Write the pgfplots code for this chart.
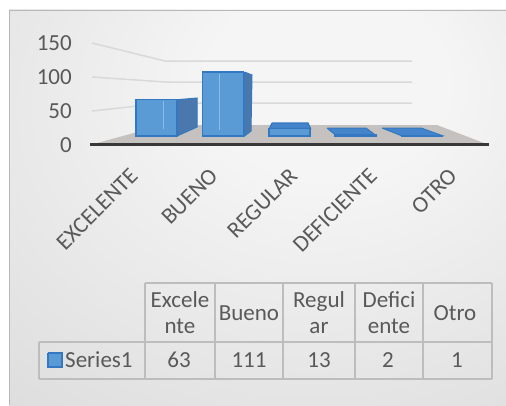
\documentclass[border=0pt]{standalone}
\usepackage{pgfplots}
\pgfplotsset{compat=1.18}
\usepackage{fontspec}
\setmainfont{Carlito}
\definecolor{txt}{HTML}{595959}
\definecolor{barf}{HTML}{5B9BD5}
\definecolor{bare}{HTML}{3378C0}
\definecolor{bars}{HTML}{4A78AC}
\definecolor{bart}{HTML}{4484CA}
\definecolor{barl}{HTML}{8DBBE8}
\definecolor{gridc}{HTML}{D9D9D9}
\definecolor{floorc}{HTML}{C4C1BE}
\definecolor{tbl}{HTML}{BDBDBD}
\definecolor{bgin}{HTML}{F5F5F5}
\definecolor{bgout}{HTML}{D2D2D2}
\pgfdeclareradialshading{bgshade}{\pgfpoint{8bp}{18bp}}{color(0bp)=(bgin); color(12bp)=(bgin); color(62bp)=(bgout); color(100bp)=(bgout)}
\newcommand{\tf}{\fontsize{23}{27}\selectfont}
\begin{document}
\begin{tikzpicture}
\fill[white] (0,0) rectangle (506pt,405pt);
\shade[shading=bgshade] (9pt,0pt) rectangle (506pt,395pt);
\draw[gridc!85!black, line width=0.8pt] (9pt,0pt) -- (9pt,395pt) -- (506pt,395pt);
% decoration axis in pixel space
\begin{axis}[at={(0pt,0pt)}, anchor=south west, scale only axis, width=506pt, height=405pt,
  xmin=0, xmax=506, ymin=0, ymax=405, y dir=reverse, hide axis, clip=false]
% gridlines (wall)
\addplot[gridc, line width=1.5pt] coordinates {(92,43)(165,61)(412,61)};
\addplot[gridc, line width=1.5pt] coordinates {(92,77)(165,82)(412,82)};
\addplot[gridc, line width=1.5pt] coordinates {(92,111)(165,103)(412,103)};
% floor
\addplot[fill=floorc, draw=none] coordinates {(90,145)(489,145)(437,125)(163,125)(90,145)};
\addplot[black!78, line width=3pt] coordinates {(90,144.5)(489,144.5)};
% side faces
\addplot[fill=bars, draw=bare, line width=1pt] coordinates {(177,99.7)(197,98)(197,127)(177,136)(177,99.7)};
\addplot[fill=bars, draw=bare, line width=1pt] coordinates {(244.5,72)(252,75)(251,131)(244.5,136)(244.5,72)};
% top faces
\addplot[fill=bart, draw=bare, line width=1.2pt] coordinates {(272,123)(308,123)(310.5,128.5)(269.5,128.5)(272,123)};
\addplot[fill=bart, draw=bare, line width=1pt] coordinates {(327,128)(366,128)(376,135.5)(336,135.5)(327,128)};
\addplot[fill=bart, draw=bare, line width=1pt] coordinates {(382,128)(421,128)(442,135.5)(401,135.5)(382,128)};
% table
\addplot[tbl, line width=2pt] coordinates {(145,283)(492,283)};
\addplot[tbl, line width=2pt] coordinates {(39,342)(492,342)};
\addplot[tbl, line width=2pt] coordinates {(39,379)(492,379)};
\addplot[tbl, line width=2pt] coordinates {(39,342)(39,379)};
\addplot[tbl, line width=2pt] coordinates {(145,283)(145,379)};
\addplot[tbl, line width=2pt] coordinates {(215,283)(215,379)};
\addplot[tbl, line width=2pt] coordinates {(283,283)(283,379)};
\addplot[tbl, line width=2pt] coordinates {(355,283)(355,379)};
\addplot[tbl, line width=2pt] coordinates {(423,283)(423,379)};
\addplot[tbl, line width=2pt] coordinates {(492,283)(492,379)};
\addplot[fill=barf, draw=bare, line width=1.5pt] coordinates {(48,353)(62,353)(62,367)(48,367)(48,353)};
\begin{scope}[every node/.style={font=\tf, text=txt, anchor=base, inner sep=0pt}]
\node at (axis cs:180,307.5) {Excele};
\node at (axis cs:180,333) {nte};
\node at (axis cs:249,320) {Bueno};
\node at (axis cs:319,307.5) {Regul};
\node at (axis cs:319,333) {ar};
\node at (axis cs:389,307.5) {Defici};
\node at (axis cs:389,333) {ente};
\node at (axis cs:455,320) {Otro};
\node[anchor=base west] at (axis cs:65,367) {Series1};
\node at (axis cs:179,367) {63};
\node at (axis cs:249,367) {111};
\node at (axis cs:319,367) {13};
\node at (axis cs:388,367) {2};
\node at (axis cs:457,367) {1};
\end{scope}
\end{axis}
% front axis: value ticks and categories
\begin{axis}[at={(90pt,260pt)}, anchor=south west, scale only axis, width=399pt, height=102pt,
  xmin=-0.5, xmax=4.5, ymin=0, ymax=150, axis line style={draw=none}, major tick length=0pt,
  ytick={0,50,100,150}, xtick={0,...,4},
  xticklabels={EXCELENTE,BUENO,REGULAR,DEFICIENTE,OTRO},
  tick label style={font=\tf, text=txt},
  /pgf/number format/assume math mode=true,
  yticklabel style={anchor=east, inner sep=0pt, xshift=-18pt},
  xticklabel style={xshift=4pt, yshift=-27pt, rotate=45, anchor=east, inner sep=0pt}]
\addplot[draw=none] coordinates {(0,0)};
\end{axis}
% bars
\begin{axis}[at={(123.3pt,269pt)}, anchor=south west, scale only axis, width=332pt, height=86.55pt,
  xmin=-0.5, xmax=4.5, ymin=0, ymax=150, hide axis, clip=false]
\addplot[ybar, bar width=41pt, bar shift=0pt, fill=barf, draw=bare, line width=1.5pt]
  coordinates {(0,63)(1,111)(2,13)(3,2)(4,1)};
\end{axis}
\draw[barl, line width=0.8pt] (163pt,304pt) -- (163pt,276pt);
\draw[barl, line width=0.8pt] (219pt,331pt) -- (219pt,275pt);
\pgfresetboundingbox
\useasboundingbox (0,0) rectangle (506pt,405pt);
\end{tikzpicture}
\end{document}
